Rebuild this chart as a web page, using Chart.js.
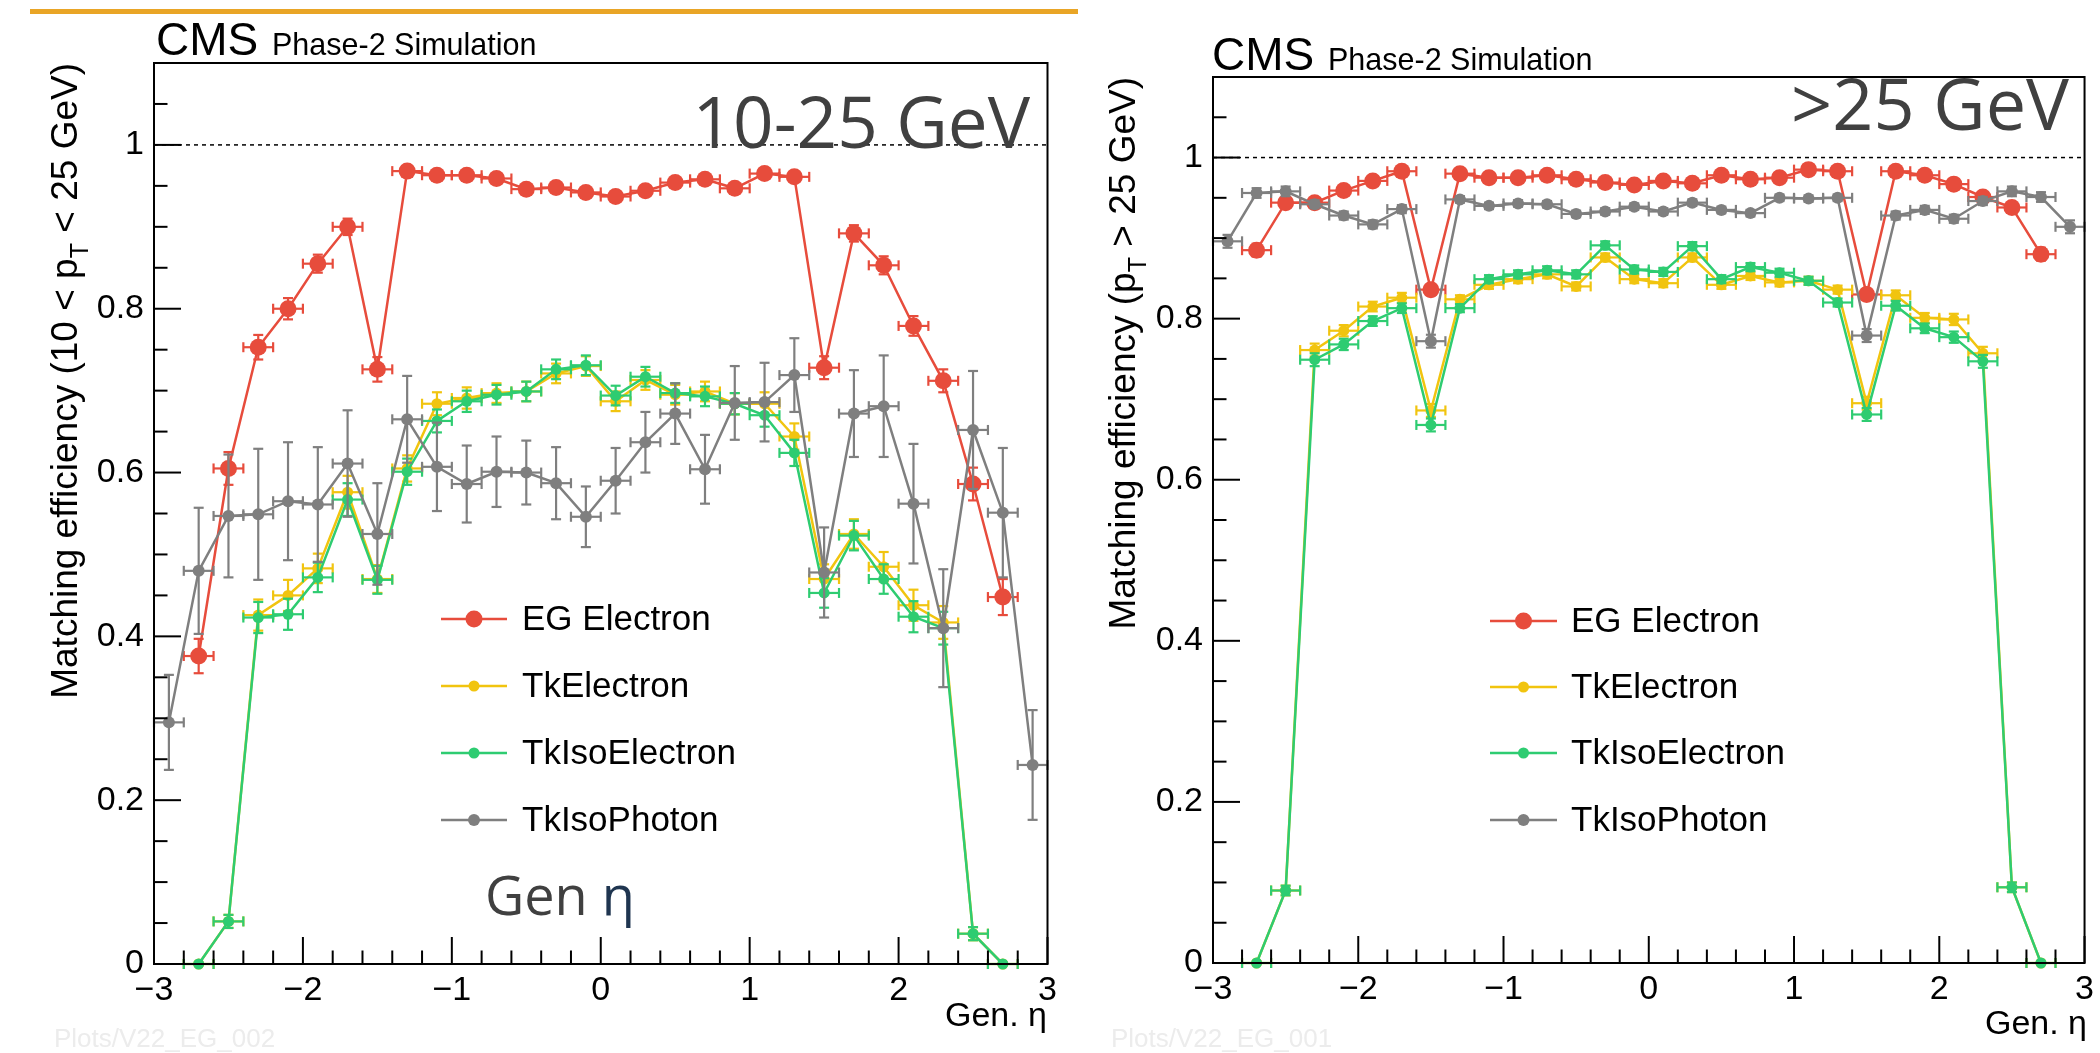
<!DOCTYPE html>
<html><head><meta charset="utf-8">
<script src="https://cdn.jsdelivr.net/npm/chart.js@4.4.0/dist/chart.umd.min.js"></script>
<style>
html,body{margin:0;padding:0;background:#fff;width:2100px;height:1053px;overflow:hidden;}
#bar{position:absolute;left:30px;top:9px;width:1048px;height:5px;background:#E9A526;}
canvas{position:absolute;top:0;}
#c1{left:0}
#c2{left:1090px}
</style></head><body>
<div id="bar"></div>
<canvas id="c1" width="1090" height="1053"></canvas>
<canvas id="c2" width="1010" height="1053"></canvas>
<script>
// ---------- data ----------
const etaCenters = [-2.9,-2.7,-2.5,-2.3,-2.1,-1.9,-1.7,-1.5,-1.3,-1.1,-0.9,-0.7,-0.5,-0.3,-0.1,0.1,0.3,0.5,0.7,0.9,1.1,1.3,1.5,1.7,1.9,2.1,2.3,2.5,2.7,2.9];
const etaHalfWidth = 0.1;
const seriesNames = ['EG Electron','TkElectron','TkIsoElectron','TkIsoPhoton'];
const xTickValues = [-3,-2,-1,0,1,2,3];
const yTickValues = [0,0.2,0.4,0.6,0.8,1];

// 10 < pT < 25 GeV
const lowEG        = [null,0.376,0.605,0.753,0.800,0.855,0.900,0.726,0.968,0.963,0.963,0.959,0.946,0.948,0.942,0.937,0.944,0.954,0.958,0.947,0.965,0.961,0.728,0.892,0.853,0.779,0.712,0.586,0.448,null];
const lowEGErr     = [null,0.021,0.020,0.015,0.013,0.011,0.010,0.015,0.006,0.006,0.006,0.006,0.006,0.006,0.006,0.006,0.006,0.006,0.006,0.006,0.006,0.006,0.014,0.010,0.011,0.012,0.014,0.020,0.022,null];
const lowTkEle     = [null,0.000,0.052,0.426,0.450,0.483,0.576,0.470,0.605,0.684,0.691,0.697,0.699,0.721,0.730,0.687,0.713,0.695,0.699,0.684,0.684,0.644,0.470,0.525,0.485,0.438,0.417,0.037,0.000,null];
const lowTkEleErr  = [null,0,0.008,0.019,0.019,0.018,0.020,0.017,0.016,0.014,0.013,0.012,0.012,0.012,0.012,0.012,0.012,0.012,0.012,0.013,0.014,0.016,0.018,0.018,0.018,0.019,0.020,0.008,0,null];
const lowTkIso     = [null,0.000,0.052,0.423,0.427,0.472,0.567,0.469,0.601,0.663,0.687,0.695,0.699,0.726,0.731,0.694,0.717,0.697,0.693,0.684,0.670,0.624,0.453,0.523,0.470,0.424,0.410,0.037,0.000,null];
const lowTkIsoErr  = [null,0,0.008,0.019,0.019,0.018,0.020,0.017,0.016,0.014,0.013,0.012,0.012,0.012,0.012,0.012,0.012,0.012,0.012,0.013,0.014,0.016,0.018,0.018,0.018,0.019,0.020,0.008,0,null];
const lowPho       = [0.295,0.480,0.547,0.549,0.565,0.561,0.611,0.525,0.665,0.607,0.586,0.601,0.600,0.587,0.546,0.590,0.637,0.672,0.604,0.685,0.686,0.719,0.478,0.672,0.681,0.562,0.410,0.652,0.551,0.243];
const lowPhoErr    = [0.058,0.077,0.075,0.080,0.072,0.070,0.065,0.062,0.053,0.054,0.047,0.043,0.039,0.044,0.037,0.040,0.037,0.037,0.042,0.045,0.048,0.045,0.055,0.053,0.062,0.073,0.072,0.072,0.079,0.067];

// pT > 25 GeV
const highEG       = [null,0.885,0.944,0.944,0.959,0.971,0.983,0.836,0.980,0.975,0.975,0.978,0.973,0.969,0.966,0.971,0.968,0.978,0.973,0.975,0.985,0.983,0.830,0.983,0.978,0.967,0.951,0.938,0.880,null];
const highEGErr    = [null,0.008,0.006,0.005,0.005,0.004,0.004,0.007,0.003,0.003,0.003,0.003,0.003,0.003,0.003,0.003,0.003,0.003,0.003,0.003,0.003,0.003,0.007,0.004,0.004,0.005,0.005,0.006,0.008,null];
const highTkEle    = [null,0.000,0.090,0.761,0.785,0.815,0.826,0.686,0.824,0.842,0.849,0.855,0.840,0.876,0.849,0.844,0.876,0.842,0.853,0.845,0.847,0.836,0.695,0.829,0.801,0.799,0.757,0.094,0.000,null];
const highTkEleErr = [null,0,0.006,0.008,0.007,0.006,0.006,0.008,0.005,0.005,0.005,0.005,0.005,0.005,0.005,0.005,0.005,0.005,0.005,0.005,0.005,0.005,0.008,0.006,0.006,0.007,0.008,0.006,0,null];
const highTkIso    = [null,0.000,0.090,0.749,0.768,0.797,0.813,0.668,0.813,0.849,0.855,0.860,0.855,0.891,0.861,0.858,0.890,0.849,0.864,0.857,0.847,0.820,0.681,0.816,0.788,0.777,0.747,0.094,0.000,null];
const highTkIsoErr = [null,0,0.006,0.008,0.007,0.006,0.006,0.008,0.005,0.005,0.005,0.005,0.005,0.005,0.005,0.005,0.005,0.005,0.005,0.005,0.005,0.005,0.008,0.006,0.006,0.007,0.008,0.006,0,null];
const highPho      = [0.896,0.956,0.958,0.942,0.928,0.917,0.936,0.772,0.948,0.940,0.943,0.942,0.930,0.933,0.939,0.933,0.944,0.935,0.931,0.950,0.949,0.950,0.779,0.928,0.935,0.924,0.946,0.958,0.951,0.914];
const highPhoErr   = [0.008,0.006,0.006,0.005,0.005,0.005,0.005,0.008,0.004,0.004,0.004,0.004,0.004,0.004,0.004,0.004,0.004,0.004,0.004,0.004,0.004,0.004,0.008,0.005,0.005,0.005,0.005,0.006,0.006,0.008];

// ---------- style ----------
const seriesColors = ['#e74c3c','#f1c40f','#2ecc71','#7f7f7f'];
const markerRadii = [8.5, 5.5, 5.5, 6];
const drawOrder = [3, 2, 1, 0];
const FONT = "'Liberation Sans', Arial, sans-serif";
const SLIDE_FONT = "'Open Sans', 'Noto Sans', sans-serif";

function fmtNum(v){ return v < 0 ? '\u2212' + String(Math.abs(v)) : String(v); }

function line(ctx,x0,y0,x1,y1){ ctx.beginPath(); ctx.moveTo(x0,y0); ctx.lineTo(x1,y1); ctx.stroke(); }

function makePlugin(cfg){
  return {
    id: 'rootStyle',
    beforeDatasetsDraw(chart){
      const {ctx, chartArea:a, scales:{y}} = chart;
      const py = y.getPixelForValue(1);
      ctx.save(); ctx.strokeStyle='#000'; ctx.lineWidth=1.5; ctx.setLineDash([4,4]);
      line(ctx, a.left, py, a.right, py); ctx.restore();
    },
    beforeDatasetDraw(chart, args){
      const ds = chart.data.datasets[args.index];
      const {ctx, scales:{x, y}} = chart;
      const cap = 5;
      ctx.save(); ctx.strokeStyle = ds.borderColor; ctx.lineWidth = 2.2;
      ds.data.forEach((p, i) => {
        if (p.y === null) return;
        const e = ds.errY[i] || 0;
        const px = x.getPixelForValue(p.x), py = y.getPixelForValue(p.y);
        const xl = x.getPixelForValue(p.x - etaHalfWidth), xr = x.getPixelForValue(p.x + etaHalfWidth);
        line(ctx, xl, py, xr, py);
        line(ctx, xl, py-cap, xl, py+cap);
        line(ctx, xr, py-cap, xr, py+cap);
        if (e > 0) {
          const yt = y.getPixelForValue(p.y + e), yb = y.getPixelForValue(p.y - e);
          line(ctx, px, yt, px, yb);
          line(ctx, px-cap, yt, px+cap, yt);
          line(ctx, px-cap, yb, px+cap, yb);
        }
      });
      ctx.restore();
    },
    afterDatasetsDraw(chart){
      const {ctx, chartArea:a, scales:{x, y}} = chart;
      ctx.save(); ctx.strokeStyle='#000'; ctx.lineWidth=2; ctx.setLineDash([]);
      ctx.strokeRect(a.left, a.top, a.right-a.left, a.bottom-a.top);
      for (let k=0; k<=30; k++){
        const px = x.getPixelForValue(-3 + k*0.2);
        const len = (k%5===0) ? 27 : 13.5;
        line(ctx, px, a.bottom, px, a.bottom-len);
      }
      for (let k=0; k<=22; k++){
        const py = y.getPixelForValue(k*0.05);
        const len = (k%4===0) ? 27 : 13.5;
        line(ctx, a.left, py, a.left+len, py);
      }
      ctx.restore();
    },
    afterDraw(chart){
      const {ctx, chartArea:a} = chart;
      ctx.save();
      // legend
      const L = cfg.legend;
      chart.data.datasets.forEach((ds, i) => {
        const yy = L.rows[i];
        ctx.strokeStyle = ds.borderColor; ctx.lineWidth = 2.4;
        line(ctx, L.x0, yy, L.x1, yy);
        ctx.fillStyle = ds.borderColor;
        ctx.beginPath(); ctx.arc((L.x0+L.x1)/2, yy, markerRadii[i], 0, Math.PI*2); ctx.fill();
        ctx.fillStyle = '#000'; ctx.font = '35px ' + FONT; ctx.textBaseline = 'middle'; ctx.textAlign='left';
        ctx.fillText(ds.label, L.tx, yy + 1);
      });
      // texts
      ctx.textBaseline = 'alphabetic';
      cfg.texts.forEach(t => {
        ctx.font = t.font; ctx.fillStyle = t.color; ctx.textAlign = t.align || 'left';
        ctx.fillText(t.text, t.x, t.y);
      });
      // two-coloured annotation
      if (cfg.genEta) {
        const g = cfg.genEta;
        ctx.font = g.font; ctx.textAlign='left';
        ctx.fillStyle = '#404040'; ctx.fillText('Gen ', g.x, g.y);
        const w = ctx.measureText('Gen ').width;
        ctx.fillStyle = '#1f3550'; ctx.fillText('\u03b7', g.x + w, g.y);
      }
      // y title (rotated, right-aligned at top of frame)
      const T = cfg.yTitle;
      const size = T.size;
      const parts = T.parts;
      ctx.translate(T.baseX, a.top);
      ctx.rotate(-Math.PI/2);
      ctx.fillStyle = '#000'; ctx.textAlign = 'left';
      let widths = parts.map(p => { ctx.font = (p.sub ? size*0.68 : size) + 'px ' + FONT; return ctx.measureText(p.t).width; });
      let total = widths.reduce((s,w)=>s+w, 0);
      let cx = -total;
      parts.forEach((p, i) => {
        ctx.font = (p.sub ? size*0.68 : size) + 'px ' + FONT;
        ctx.fillText(p.t, cx, p.sub ? size*0.3 : 0);
        cx += widths[i];
      });
      ctx.restore();
    }
  };
}

function panel(canvasId, o){
  const datasets = o.series.map((s, i) => ({
    label: seriesNames[i],
    data: etaCenters.map((xv, k) => ({x: xv, y: s.vals[k]})),
    errY: s.errs,
    borderColor: seriesColors[i],
    backgroundColor: seriesColors[i],
    pointBackgroundColor: seriesColors[i],
    pointBorderWidth: 0,
    pointRadius: markerRadii[i],
    borderWidth: 2.5,
    tension: 0,
    spanGaps: false,
    clip: false,
    order: drawOrder[i]
  }));
  return new Chart(document.getElementById(canvasId), {
    type: 'line',
    data: {datasets},
    options: {
      responsive: false, animation: false, devicePixelRatio: 1, events: [],
      layout: {padding: {left: 0, right: o.padRight, top: o.padTop, bottom: 0}},
      plugins: {legend: {display: false}, tooltip: {enabled: false}},
      scales: {
        x: {
          type: 'linear', min: -3, max: 3,
          afterBuildTicks: s => { s.ticks = xTickValues.map(v => ({value: v})); },
          afterFit: s => { s.height = o.xAxisHeight; },
          grid: {display: false, drawTicks: false}, border: {display: false},
          ticks: {padding: 6, autoSkip: false, maxRotation: 0, minRotation: 0, color: '#000',
                  font: {family: FONT, size: 34}, callback: v => fmtNum(v)}
        },
        y: {
          type: 'linear', min: 0, max: 1.1,
          afterBuildTicks: s => { s.ticks = yTickValues.map(v => ({value: v})); },
          afterFit: s => { s.width = o.yAxisWidth; },
          grid: {display: false, drawTicks: false}, border: {display: false},
          ticks: {padding: 10, autoSkip: false, color: '#000',
                  font: {family: FONT, size: 34}, callback: v => fmtNum(v)}
        }
      }
    },
    plugins: [makePlugin(o)]
  });
}

panel('c1', {
  series: [
    {vals: lowEG, errs: lowEGErr},
    {vals: lowTkEle, errs: lowTkEleErr},
    {vals: lowTkIso, errs: lowTkIsoErr},
    {vals: lowPho, errs: lowPhoErr}
  ],
  padRight: 42.5, padTop: 63, xAxisHeight: 89, yAxisWidth: 154,
  legend: {x0: 441, x1: 507, tx: 522, rows: [619, 686, 753, 820]},
  texts: [
    {text: 'CMS', x: 156, y: 55, font: '46px ' + FONT, color: '#000'},
    {text: 'Phase-2 Simulation', x: 272, y: 55, font: '30.5px ' + FONT, color: '#000'},
    {text: '10-25 GeV', x: 1030, y: 148, font: '71px ' + SLIDE_FONT, color: '#404040', align: 'right'},
    {text: 'Gen. \u03b7', x: 1047, y: 1026, font: '34px ' + FONT, color: '#000', align: 'right'},
    {text: 'Plots/V22_EG_002', x: 54, y: 1047, font: '26px ' + FONT, color: '#ececec'}
  ],
  genEta: {x: 485, y: 915, font: '54px ' + SLIDE_FONT},
  yTitle: {baseX: 77, size: 37, parts: [{t: 'Matching efficiency (10 < p'}, {t: 'T', sub: true}, {t: ' < 25 GeV)'}]}
});

panel('c2', {
  series: [
    {vals: highEG, errs: highEGErr},
    {vals: highTkEle, errs: highTkEleErr},
    {vals: highTkIso, errs: highTkIsoErr},
    {vals: highPho, errs: highPhoErr}
  ],
  padRight: 13, padTop: 77, xAxisHeight: 90, yAxisWidth: 123,
  legend: {x0: 400, x1: 467, tx: 481, rows: [621, 687, 753, 820]},
  texts: [
    {text: 'CMS', x: 122, y: 70, font: '46px ' + FONT, color: '#000'},
    {text: 'Phase-2 Simulation', x: 238, y: 70, font: '30.5px ' + FONT, color: '#000'},
    {text: '>25 GeV', x: 979, y: 130, font: '72px ' + SLIDE_FONT, color: '#404040', align: 'right'},
    {text: 'Gen. \u03b7', x: 997, y: 1034, font: '34px ' + FONT, color: '#000', align: 'right'},
    {text: 'Plots/V22_EG_001', x: 21, y: 1047, font: '26px ' + FONT, color: '#ececec'}
  ],
  genEta: null,
  yTitle: {baseX: 45, size: 37, parts: [{t: 'Matching efficiency (p'}, {t: 'T', sub: true}, {t: ' > 25 GeV)'}]}
});
</script></body></html>
